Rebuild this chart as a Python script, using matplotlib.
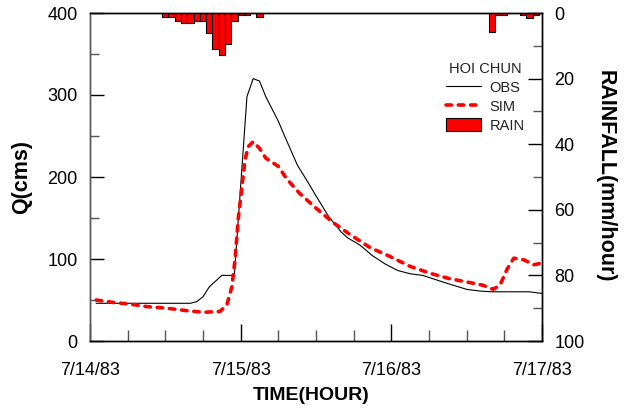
import matplotlib
matplotlib.use('Agg')
import matplotlib.pyplot as plt
from matplotlib.ticker import MultipleLocator, FixedLocator
from matplotlib.patches import Patch
from matplotlib.lines import Line2D

plt.rcParams['font.family'] = ['Liberation Sans', 'DejaVu Sans']

# ---- data ----
obs_hours = [1, 16, 17, 18, 19, 20, 21, 23, 25, 26, 27, 28, 30, 31, 33, 35, 36, 38, 40, 41,
             43, 45, 47, 49, 51, 53, 55, 57, 60, 62, 64, 70, 72]
obs_q = [46, 46, 48, 54, 66, 73, 80, 80, 298, 320, 317, 298, 268, 250, 215, 190, 177, 152, 133, 126,
         117, 104, 94, 86, 82, 80, 75, 70, 63, 61, 60, 60, 58]

sim_hours = [1, 3.7, 6.4, 9, 12.2, 15.4, 18, 20.7, 21.8, 22.6, 23.1, 23.6, 24.2, 24.7, 25.2, 26,
             27, 28, 30, 31.3, 33.4, 36, 38.8, 41.4, 44.6, 47.8, 51, 54.2, 57.3, 60, 62.6, 64.2,
             65.3, 66.4, 67.5, 69.1, 70.7, 72]
sim_q = [50, 47, 45, 42, 40, 37, 35, 36, 44, 66, 99, 148, 188, 221, 237, 243,
         235, 223, 213, 198, 180, 162, 144, 130, 114, 103, 91, 82.5, 76, 72, 68, 63,
         68, 87, 101, 99, 93, 95]

rain_hours = [12, 13, 14, 15, 16, 17, 18, 19, 20, 21, 22, 23, 24, 25, 27, 64, 65, 66, 69, 70, 71]
rain_mm = [1.3, 1.3, 2.3, 3.2, 3.2, 2.5, 2.3, 6.2, 11.0, 12.9, 9.3, 2.3, 0.5, 0.5, 1.1,
           5.9, 0.5, 0.5, 0.5, 1.4, 0.5]

date_ticks = [0, 24, 48, 72]
date_labels = ['7/14/83', '7/15/83', '7/16/83', '7/17/83']
q_ticks = [0, 100, 200, 300, 400]
rain_ticks = [0, 20, 40, 60, 80, 100]

# ---- figure ----
fig = plt.figure(figsize=(6.25, 4.12), dpi=100)
ax = fig.add_axes([90 / 625, 1 - 341 / 412, 452 / 625, 328 / 412])
ax2 = ax.twinx()

obs_line, = ax.plot(obs_hours, obs_q, color='black', lw=0.8, zorder=3)
sim_line, = ax.plot(sim_hours, sim_q, color='#ff0000', lw=2.6,
                    linestyle=(0, (1.5, 1.9)), dash_capstyle='round', zorder=4)
ax2.bar(rain_hours, rain_mm, width=1.0, color='#ff0000', edgecolor='black', linewidth=0.8)

ax.set_xlim(0, 72)
ax.set_ylim(0, 400)
ax2.set_ylim(100, 0)

# ticks
ax.xaxis.set_major_locator(FixedLocator(date_ticks))
ax.set_xticklabels(date_labels)
ax.xaxis.set_minor_locator(MultipleLocator(6))
ax.yaxis.set_major_locator(FixedLocator(q_ticks))
ax.yaxis.set_minor_locator(MultipleLocator(50))
ax2.yaxis.set_major_locator(FixedLocator(rain_ticks))
ax2.yaxis.set_minor_locator(MultipleLocator(10))

ax.tick_params(axis='x', which='major', direction='in', length=12, width=1.0,
               labelsize=13, pad=15, top=False, color='black')
ax.tick_params(axis='x', which='minor', direction='in', length=8, width=1.0,
               top=False, color='#555555')
ax.tick_params(axis='y', which='major', direction='in', length=10, width=1.0,
               labelsize=13, pad=9, right=False, color='black')
ax.tick_params(axis='y', which='minor', direction='in', length=6.5, width=1.0,
               right=False, color='#555555')
ax2.tick_params(axis='y', which='major', direction='in', length=10, width=1.0,
                labelsize=13, pad=9, left=False, color='black')
ax2.tick_params(axis='y', which='minor', direction='in', length=6.5, width=1.0,
                left=False, color='#555555')

for a in (ax, ax2):
    for s in a.spines.values():
        s.set_linewidth(1.0)
        s.set_color('black')
    a.spines['left'].set_color('#555555')

# axis labels
fig.text(22 / 625, 1 - 177 / 412, 'Q(cms)', rotation=90, ha='center', va='center',
         fontsize=15.5, fontweight='bold')
fig.text(605 / 625, 1 - 176 / 412, 'RAINFALL(mm/hour)', rotation=270, ha='center', va='center',
         fontsize=15.5, fontweight='bold')
fig.text(311 / 625, 1 - 395 / 412, 'TIME(HOUR)', ha='center', va='center',
         fontsize=14, fontweight='bold')

# legend
handles = [Line2D([], [], color='black', lw=0.8),
           Line2D([], [], color='#ff0000', lw=2.6, linestyle=(0, (1.5, 1.9)), dash_capstyle='round'),
           Patch(facecolor='#ff0000', edgecolor='black', linewidth=0.8)]
leg = ax2.legend(handles, ['OBS', 'SIM', 'RAIN'], title='HOI CHUN', frameon=False,
                 loc='upper right', bbox_to_anchor=(0.962, 0.85), fontsize=10.5,
                 title_fontsize=10.5, handlelength=2.4, handleheight=1.0,
                 handletextpad=0.6, labelspacing=0.3, borderpad=0, borderaxespad=0)
for t in leg.get_texts():
    t.set_color('#222222')
leg.get_title().set_color('#222222')

fig.savefig('out.png', dpi=100)
